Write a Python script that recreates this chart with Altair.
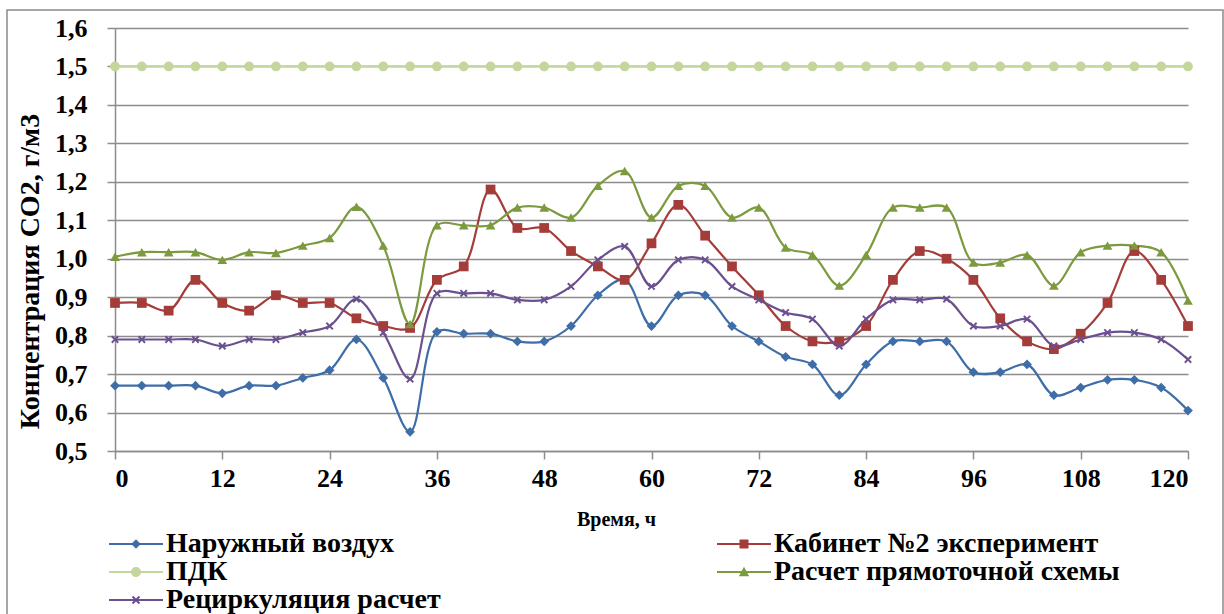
import altair as alt
import pandas as pd

# Time axis, hours (every 3 h over five days)
hours = list(range(0, 121, 3))

outdoor = [0.67, 0.67, 0.67, 0.67, 0.65, 0.67, 0.67, 0.69, 0.71, 0.79, 0.69,
           0.55, 0.81, 0.805, 0.805, 0.785, 0.785, 0.825, 0.905, 0.945, 0.825,
           0.905, 0.905, 0.825, 0.785, 0.745, 0.725, 0.645, 0.725, 0.785, 0.785,
           0.785, 0.705, 0.705, 0.725, 0.645, 0.665, 0.685, 0.685, 0.665, 0.605]
cabinet = [0.885, 0.885, 0.865, 0.945, 0.885, 0.865, 0.905, 0.885, 0.885, 0.845, 0.825,
           0.82, 0.945, 0.98, 1.18, 1.08, 1.08, 1.02, 0.98, 0.945, 1.04,
           1.14, 1.06, 0.98, 0.905, 0.825, 0.785, 0.785, 0.825, 0.945, 1.02,
           1.0, 0.945, 0.845, 0.785, 0.765, 0.805, 0.885, 1.02, 0.945, 0.825]
pdk = [1.5] * len(hours)
direct_flow = [1.005, 1.017, 1.017, 1.017, 0.997, 1.017, 1.015, 1.034, 1.054, 1.135, 1.034,
               0.83, 1.087, 1.087, 1.087, 1.133, 1.133, 1.107, 1.19, 1.228, 1.107,
               1.19, 1.19, 1.107, 1.133, 1.029, 1.01, 0.93, 1.01, 1.133, 1.133,
               1.133, 0.99, 0.99, 1.01, 0.93, 1.017, 1.034, 1.034, 1.017, 0.891]
recirculation = [0.79, 0.79, 0.79, 0.79, 0.773, 0.79, 0.79, 0.808, 0.825, 0.895, 0.808,
                 0.687, 0.91, 0.91, 0.91, 0.893, 0.893, 0.928, 0.997, 1.032, 0.928,
                 0.997, 0.997, 0.928, 0.893, 0.86, 0.843, 0.773, 0.843, 0.893, 0.893,
                 0.895, 0.825, 0.825, 0.843, 0.773, 0.79, 0.808, 0.808, 0.79, 0.738]

series_names = ["Наружный воздух", "Кабинет №2 эксперимент", "ПДК",
                "Расчет прямоточной схемы", "Рециркуляция расчет"]
series_values = [outdoor, cabinet, pdk, direct_flow, recirculation]
series_colors = ["#3E6DA8", "#A43C39", "#C3D69B", "#7C9A3E", "#6B5090"]

# Legend entries are laid out column by column (two columns)
legend_order = [0, 2, 4, 1, 3]

x_ticks = list(range(0, 121, 12))
y_ticks = [round(0.5 + 0.1 * i, 1) for i in range(12)]

rows = []
for name, vals in zip(series_names, series_values):
    for h, v in zip(hours, vals):
        rows.append({"hours": h, "value": v, "series": name})
df = pd.DataFrame(rows)

FONT = "Liberation Serif"


def x_glyph(e, d):
    """Filled X-shaped polygon with half-extent e and arm offset d."""
    pts = [(-e, -e + d), (-e + d, -e), (0, -d), (e - d, -e), (e, -e + d), (d, 0),
           (e, e - d), (e - d, e), (0, d), (-e + d, e), (-e, e - d), (-d, 0)]
    return "M" + "L".join(f"{x:.3f},{y:.3f}" for x, y in pts) + "Z"


# Plot markers (unit coords scaled by sqrt(size)/2)
plot_shapes = ["diamond", "square", "circle", "triangle-up", x_glyph(0.8, 0.28)]

# Legend glyphs: a short line with the series marker in the middle
seg = "M-2.7,-0.11H2.7V0.11H-2.7Z"
legend_glyphs = [
    seg + "M0,-0.48L0.48,0L0,0.48L-0.48,0Z",
    seg + "M-0.45,-0.45H0.45V0.45H-0.45Z",
    seg + "M-0.5,0A0.5,0.5 0 1,1 0.5,0A0.5,0.5 0 1,1 -0.5,0Z",
    seg + "M0,-0.52L0.52,0.42L-0.52,0.42Z",
    seg + x_glyph(0.42, 0.14),
]

x_enc = alt.X("hours:Q",
              scale=alt.Scale(domain=[0, 120], nice=False),
              axis=alt.Axis(values=x_ticks, title="Время, ч", grid=False,
                            titleX=501, titleY=68, titleBaseline="middle",
                            titleFontSize=20, labelPadding=6, tickSize=8))
y_enc = alt.Y("value:Q",
              scale=alt.Scale(domain=[0.5, 1.6], nice=False, zero=False),
              axis=alt.Axis(values=y_ticks, title="Концентрация СО2, г/м3",
                            labelExpr="replace(format(datum.value, '.1f'), '.', ',')",
                            titleAngle=270, titleX=-85, titleY=243,
                            titleAlign="center", titleBaseline="middle",
                            titleFontSize=28, labelPadding=20, tickSize=8))

color_scale = alt.Scale(domain=series_names, range=series_colors)

lines = alt.Chart(df).mark_line(interpolate="catmull-rom", strokeWidth=2.2).encode(
    x=x_enc, y=y_enc,
    color=alt.Color("series:N", scale=color_scale, legend=None),
    detail="series:N",
)

points = alt.Chart(df).mark_point(filled=True, opacity=1, size=95).encode(
    x=x_enc, y=y_enc,
    color=alt.Color("series:N", scale=color_scale, legend=None),
    shape=alt.Shape("series:N", scale=alt.Scale(domain=series_names, range=plot_shapes),
                    legend=None),
)

legend_names = [series_names[i] for i in legend_order]
legend_colors = [series_colors[i] for i in legend_order]
legend_shapes = [legend_glyphs[i] for i in legend_order]

legend_layer = alt.Chart(df).transform_filter("false").mark_point(
    filled=True, opacity=1).encode(
    x=x_enc, y=y_enc,
    color=alt.Color("series:N", scale=alt.Scale(domain=legend_names, range=legend_colors),
                    title=None,
                    legend=alt.Legend(orient="none", legendX=7, legendY=502,
                                      columns=2, columnPadding=276, rowPadding=-1,
                                      symbolSize=400, labelOffset=16,
                                      labelFontSize=28, labelFont=FONT,
                                      labelFontWeight="bold", labelColor="black",
                                      labelLimit=0)),
    shape=alt.Shape("series:N", scale=alt.Scale(domain=legend_names, range=legend_shapes),
                    title=None),
)

frame = alt.Chart(pd.DataFrame({"k": [0]})).mark_rect(
    fill=None, stroke="#8a8a8a", strokeWidth=1.5).encode(
    x=alt.value(-108), x2=alt.value(1108), y=alt.value(-18), y2=alt.value(600))

chart = alt.layer(frame, lines, points, legend_layer).resolve_scale(
    color="independent", shape="independent"
).properties(
    width=1073, height=423,
    autosize=alt.AutoSizeParams(type="none"),
    padding={"left": 115, "top": 28, "right": 36, "bottom": 163},
    background="white",
).configure_view(stroke=None).configure_axis(
    labelFont=FONT, titleFont=FONT, labelFontWeight="bold", titleFontWeight="bold",
    labelFontSize=26, labelColor="black", titleColor="black",
    domainColor="#8c8c8c", domainWidth=1.5, tickColor="#8c8c8c", tickWidth=1.5,
    gridColor="#8c8c8c", gridWidth=1.5,
)

chart.save("out.html", embed_options={"renderer": "svg", "actions": False})
